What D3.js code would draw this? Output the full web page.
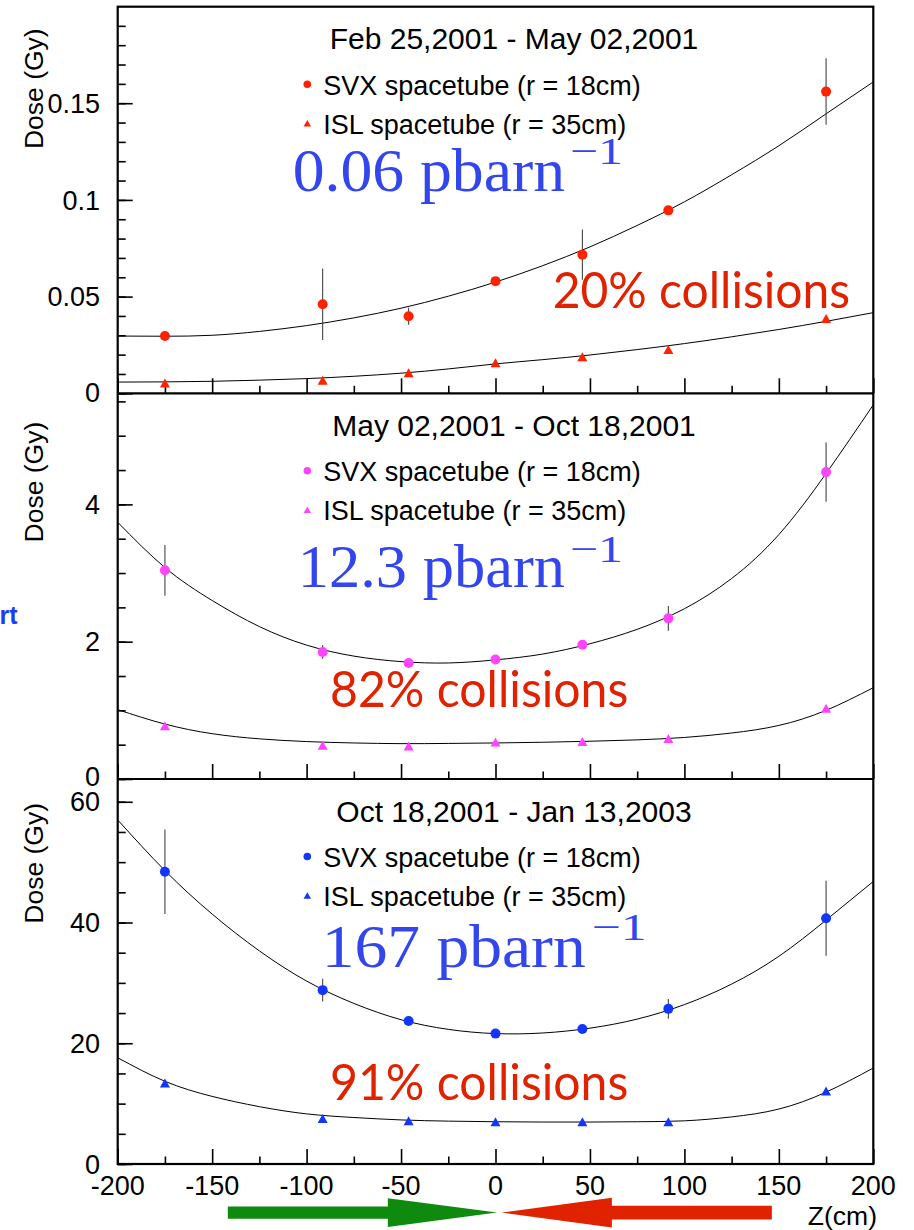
<!DOCTYPE html>
<html><head><meta charset="utf-8">
<script src="https://cdn.jsdelivr.net/npm/d3@7"></script>
<style>
body{margin:0;background:#fff;}
svg{display:block;}
</style></head><body>
<svg id="c" width="914" height="1230" font-family="'Liberation Sans',Arial,Helvetica,sans-serif"></svg>
<script>
// ---------- data ----------
const zPos = [-175, -91.5, -46, 0, 46, 91.5, 175];

const svx1 = [0.0296, 0.046, 0.0398, 0.058, 0.0717, 0.0946, 0.156];
const svx1Err = [0, 0.0185, 0.0044, 0, 0.013, 0, 0.0172];
const isl1 = [0.0053, 0.0068, 0.0106, 0.0158, 0.0189, 0.0227, 0.0387];

const svx2 = [3.04, 1.85, 1.69, 1.74, 1.955, 2.34, 4.47];
const svx2Err = [0.37, 0.1, 0, 0, 0, 0.18, 0.43];
const isl2 = [0.775, 0.49, 0.48, 0.54, 0.545, 0.59, 1.03];

const svx3 = [48.4, 28.8, 23.7, 21.6, 22.35, 25.7, 40.7];
const svx3Err = [7.0, 1.9, 0, 0, 0, 1.65, 6.2];
const isl3 = [13.4, 7.55, 7.15, 7.0, 7.0, 7.0, 12.1];

const fitZ = [-200,-175,-150,-125,-100,-75,-50,-25,0,25,50,75,100,125,150,175,200];
const fitSvx1 = [0.0296,0.0295,0.0300,0.0320,0.0350,0.0390,0.0440,0.0502,0.0575,0.0660,0.0757,0.0868,0.0990,0.1130,0.1280,0.1445,0.1610];
const fitIsl1 = [0.0058,0.0059,0.0062,0.0068,0.0076,0.0088,0.0104,0.0126,0.0152,0.0174,0.0198,0.0226,0.0257,0.0292,0.0330,0.0372,0.0417];
const fitSvx2 = [3.74,3.08,2.60,2.22,1.95,1.79,1.71,1.69,1.735,1.82,1.97,2.18,2.48,2.92,3.56,4.45,5.45];
const fitIsl2 = [1.01,0.80,0.66,0.585,0.545,0.525,0.515,0.518,0.525,0.535,0.55,0.57,0.605,0.67,0.78,1.0,1.33];
const fitSvx3 = [57.0,48.6,41.4,35.3,30.3,26.6,23.9,22.3,21.6,21.7,22.5,24.0,26.4,29.8,34.4,40.4,46.8];
const fitIsl3 = [17.6,13.7,11.2,9.5,8.3,7.7,7.3,7.1,7.0,6.95,6.95,7.0,7.15,7.8,9.1,11.9,15.9];

const titles = ["Feb 25,2001 - May 02,2001", "May 02,2001 - Oct 18,2001", "Oct 18,2001 - Jan 13,2003"];
const lumiNum = ["0.06", "12.3", "167"];
const collText = ["20% collisions", "82% collisions", "91% collisions"];
const legendText = ["SVX spacetube (r = 18cm)", "ISL spacetube (r = 35cm)"];
const yMax = [0.1999, 5.618, 63.77];
const yMajor = [[0, 0.05, 0.1, 0.15], [0, 2, 4], [0, 20, 40, 60]];
const yMajorLabels = [["0", "0.05", "0.1", "0.15"], ["0", "2", "4"], ["0", "20", "40", "60"]];
const yMinorStep = [0.01, 0.5, 5];
const xTicks = [-200, -150, -100, -50, 0, 50, 100, 150, 200];
const xTickLabels = ["-200", "-150", "-100", "-50", "0", "50", "100", "150", "200"];
const xMinor = [-175, -125, -75, -25, 25, 75, 125, 175];

// ---------- layout / style ----------
const panelTop = [6.7, 393.3, 779];
const panelBot = [393.3, 779, 1164];
const colors = ["#ff2200", "#ff44ff", "#1236ff"];
const lumiLayout = [
  {x0: 292.7, x1: 565, base: 190.5, sx0: 570, sx1: 623, sbase: 163.5},
  {x0: 297.7, x1: 565, base: 586.7, sx0: 570, sx1: 623, sbase: 561.7},
  {x0: 321.7, x1: 585.7, base: 966.7, sx0: 591.7, sx1: 646.7, sbase: 940}
];
const collLayout = [
  {x0: 552.7, x1: 850, base: 308.3},
  {x0: 330, x1: 628.3, base: 706.7},
  {x0: 330, x1: 628.3, base: 1100}
];
const doseEnd = [28.3, 421.7, 803];
const zeroLabelShift = [-0.6, -2.3, 0];

const svg = d3.select("#c");
const X0 = 117.7, X1 = 873.3;
const x = d3.scaleLinear().domain([-200, 200]).range([X0, X1]);

const panels = [
  {svx: svx1, err: svx1Err, isl: isl1, fs: fitSvx1, fi: fitIsl1},
  {svx: svx2, err: svx2Err, isl: isl2, fs: fitSvx2, fi: fitIsl2},
  {svx: svx3, err: svx3Err, isl: isl3, fs: fitSvx3, fi: fitIsl3}
];

const tri = (cx, cy, w, h) => `M${cx - w/2},${cy + h/2}L${cx + w/2},${cy + h/2}L${cx},${cy - h/2}Z`;
const serif = "'Liberation Serif','Times New Roman',serif";
const gill = "Lato,'Open Sans',sans-serif";

panels.forEach((p, i) => {
  const y = d3.scaleLinear().domain([0, yMax[i]]).range([panelBot[i], panelTop[i]]);
  const g = svg.append("g");

  // y ticks
  const minorVals = d3.range(0, yMax[i] + 1e-9, yMinorStep[i]);
  g.append("g").attr("transform", `translate(${X0},0)`)
    .call(d3.axisLeft(y).tickValues(minorVals).tickSize(-8).tickFormat(""))
    .call(s => { s.select(".domain").remove(); s.selectAll("line").attr("stroke", "#000").attr("stroke-width", 1.6); });
  g.append("g").attr("transform", `translate(${X0},0)`)
    .call(d3.axisLeft(y).tickValues(yMajor[i]).tickSize(-15).tickFormat(""))
    .call(s => { s.select(".domain").remove(); s.selectAll("line").attr("stroke", "#000").attr("stroke-width", 1.6); });
  yMajor[i].forEach((v, k) => {
    g.append("text").attr("x", 100).attr("y", y(v) + (v === 0 ? zeroLabelShift[i] : 0)).attr("dy", "0.36em")
      .attr("text-anchor", "end").attr("font-size", 27).text(yMajorLabels[i][k]);
  });

  // x ticks (inward)
  g.append("g").attr("transform", `translate(0,${panelBot[i]})`)
    .call(d3.axisBottom(x).tickValues(xMinor).tickSize(-7.5).tickFormat(""))
    .call(s => { s.select(".domain").remove(); s.selectAll("line").attr("stroke", "#000").attr("stroke-width", 1.6); });
  g.append("g").attr("transform", `translate(0,${panelBot[i]})`)
    .call(d3.axisBottom(x).tickValues(xTicks).tickSize(-15).tickFormat(""))
    .call(s => { s.select(".domain").remove(); s.selectAll("line").attr("stroke", "#000").attr("stroke-width", 1.6); });

  // Dose label
  g.append("text").attr("transform", `translate(43,${doseEnd[i]}) rotate(-90)`)
    .attr("text-anchor", "end").attr("font-size", 26.5).text("Dose (Gy)");

  // fits
  const line = d3.line().x((d, k) => x(fitZ[k])).y(d => y(d)).curve(d3.curveNatural);
  g.append("path").attr("d", line(p.fs)).attr("fill", "none").attr("stroke", "#000").attr("stroke-width", 1);
  g.append("path").attr("d", line(p.fi)).attr("fill", "none").attr("stroke", "#000").attr("stroke-width", 1);

  // error bars
  p.svx.forEach((v, k) => {
    if (p.err[k] > 0) {
      g.append("line").attr("x1", x(zPos[k])).attr("x2", x(zPos[k]))
        .attr("y1", y(v - p.err[k])).attr("y2", y(v + p.err[k]))
        .attr("stroke", "#444").attr("stroke-width", 1.1);
    }
  });
  // markers
  p.svx.forEach((v, k) => {
    g.append("circle").attr("cx", x(zPos[k])).attr("cy", y(v)).attr("r", 5).attr("fill", colors[i]);
  });
  p.isl.forEach((v, k) => {
    g.append("path").attr("d", tri(x(zPos[k]), y(v), 10, 9)).attr("fill", colors[i]);
  });

  // title
  const t0 = panelTop[i];
  g.append("text").attr("x", 514).attr("y", t0 + 42.5).attr("text-anchor", "middle")
    .attr("font-size", 30).text(titles[i]);
  // legend
  g.append("circle").attr("cx", 307.3).attr("cy", t0 + 77.5).attr("r", 3.8).attr("fill", colors[i]);
  g.append("text").attr("x", 323.3).attr("y", t0 + 87.8).attr("font-size", 27).text(legendText[0]);
  g.append("path").attr("d", tri(307.3, t0 + 116.5, 7.5, 6.5)).attr("fill", colors[i]);
  g.append("text").attr("x", 323.3).attr("y", t0 + 126.8).attr("font-size", 27).text(legendText[1]);

  // luminosity text (one text element, superscript as tspan)
  const L = lumiLayout[i];
  const lt = g.append("text").attr("font-family", serif).attr("fill", "#3346ee");
  lt.append("tspan").attr("x", L.x0).attr("y", L.base).attr("font-size", 62)
    .attr("textLength", L.x1 - L.x0).attr("lengthAdjust", "spacingAndGlyphs")
    .text(lumiNum[i] + " pbarn");
  lt.append("tspan").attr("x", L.sx0).attr("y", L.sbase).attr("font-size", 38)
    .attr("textLength", L.sx1 - L.sx0).attr("lengthAdjust", "spacingAndGlyphs")
    .text("\u22121");

  // collisions text
  const C = collLayout[i];
  g.append("text").attr("x", C.x0).attr("y", C.base)
    .attr("font-family", gill).attr("font-size", 50)
    .attr("fill", "#e02200").attr("textLength", C.x1 - C.x0).attr("lengthAdjust", "spacingAndGlyphs")
    .text(collText[i]);
});

// frame
svg.append("rect").attr("x", X0).attr("y", panelTop[0]).attr("width", X1 - X0).attr("height", panelBot[2] - panelTop[0])
  .attr("fill", "none").attr("stroke", "#000").attr("stroke-width", 2.2);
[panelBot[0], panelBot[1]].forEach(yy => {
  svg.append("line").attr("x1", X0).attr("x2", X1).attr("y1", yy).attr("y2", yy)
    .attr("stroke", "#000").attr("stroke-width", 2.2);
});

// x tick labels (bottom panel)
xTicks.forEach((v, k) => {
  svg.append("text").attr("x", x(v)).attr("y", 1195).attr("text-anchor", "middle")
    .attr("font-size", 27).text(xTickLabels[k]);
});
svg.append("text").attr("x", 877).attr("y", 1225).attr("text-anchor", "end").attr("font-size", 26.5).text("Z(cm)");

// arrows (in z units)
const arrowGreen = {tail: -141.7, headBase: -57, tip: 0.8};
const arrowRed = {tail: 146.3, headBase: 61.6, tip: 3.3};
const ay = 1212.6;
function arrowPath(a, sh, hh) {
  const t = x(a.tail), b = x(a.headBase), p = x(a.tip);
  return `M${t},${ay - sh}L${b},${ay - sh}L${b},${ay - hh}L${p},${ay}L${b},${ay + hh}L${b},${ay + sh}L${t},${ay + sh}Z`;
}
svg.append("path").attr("d", arrowPath(arrowGreen, 6.2, 14.4)).attr("fill", "#0e8a0e");
svg.append("path").attr("d", arrowPath(arrowRed, 6.8, 14.8)).attr("fill", "#e02200");

// cut-off slide text at left
svg.append("text").attr("x", 17.5).attr("y", 624).attr("text-anchor", "end")
  .attr("font-weight", "bold").attr("font-size", 25).attr("fill", "#1c3cf7").text("rt");
</script>
</body></html>
